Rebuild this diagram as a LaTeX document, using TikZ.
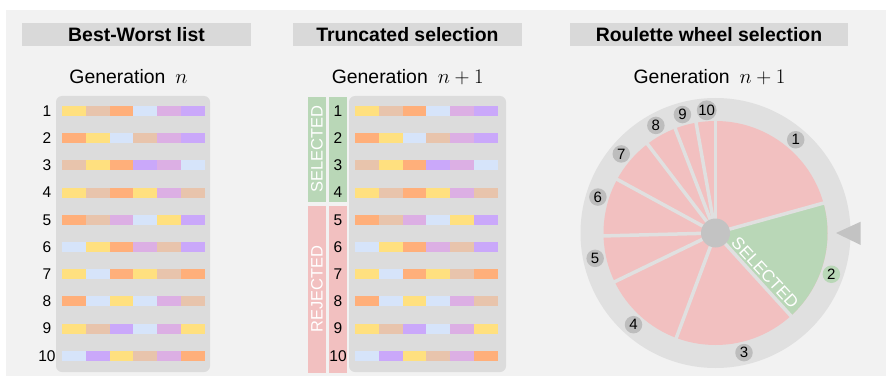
\documentclass[tikz,border=0pt]{standalone}
\usepackage{fontspec}
\newfontfamily\arialf{Liberation Sans}
\definecolor{bg}{HTML}{F2F2F2}
\definecolor{panel}{HTML}{DCDCDC}
\definecolor{titlebar}{HTML}{D9D9D9}
\definecolor{gY}{HTML}{FFE07F}
\definecolor{gT}{HTML}{E8C4AC}
\definecolor{gO}{HTML}{FFAF7A}
\definecolor{gB}{HTML}{D6E4FA}
\definecolor{gL}{HTML}{DCAFE4}
\definecolor{gP}{HTML}{CAA8FA}
\definecolor{selg}{HTML}{B9D7B7}
\definecolor{rejr}{HTML}{F2C0C0}
\definecolor{ring}{HTML}{E0E0E0}
\definecolor{hub}{HTML}{C3C3C3}
\definecolor{lab}{HTML}{BDBDBD}
\tikzset{
  titletext/.style={font=\arialf\bfseries\fontsize{19.4}{22}\selectfont, inner sep=0pt},
  gentext/.style={font=\arialf\fontsize{19.4}{22}\selectfont, inner sep=0pt, anchor=base},
  numtext/.style={font=\arialf\fontsize{15.5}{18}\selectfont, inner sep=0pt},
  bartext/.style={font=\arialf\fontsize{16.5}{19}\selectfont, text=white, inner sep=0pt, rotate=90},
  wheellab/.style={circle, fill=lab, inner sep=0pt, minimum size=17.5pt, font=\arialf\fontsize{15}{17}\selectfont},
  panelbox/.style={fill=panel, rounded corners=6pt},
}
\begin{document}
\begin{tikzpicture}[x=1pt,y=1pt]
\useasboundingbox (0,0) rectangle (886,381);
\fill[bg] (6,5) rectangle (886,371);

% title bars
\fill[titlebar] (22,335.3) rectangle (251,358.3);
\fill[titlebar] (293,335.3) rectangle (522,358.3);
\fill[titlebar] (570,335.3) rectangle (848,358.3);
\node[titletext] (t1) at (136.5,346.8) {Best-Worst list};
\node[titletext] (t2) at (407.5,346.8) {Truncated selection};
\node[titletext] (t3) at (709,346.8) {Roulette wheel selection};

% generation labels
\node[gentext] (g1) at (128.5,297.7) {Generation\hspace{10pt}{\fontsize{22}{26}\selectfont$n$}};
\node[gentext] (g2) at (407.7,297.7) {Generation\hspace{10pt}{\fontsize{22}{26}\selectfont$n+1$}};
\node[gentext] (g3) at (709.5,297.7) {Generation\hspace{10pt}{\fontsize{22}{26}\selectfont$n+1$}};

% panels
\fill[panelbox] (56,9) rectangle (210,285);
\fill[panelbox] (349,9) rectangle (506,285);

% selected / rejected bars
\fill[selg] (308,179) rectangle (326,284.3);
\fill[selg] (329,179) rectangle (347,284.3);
\fill[rejr] (308,8.3) rectangle (326,175);
\fill[rejr] (329,8.3) rectangle (347,175);
\node[bartext] (sel) at (317,231.6) {SELECTED};
\node[bartext] (rej) at (317,91.7) {REJECTED};

% chromosomes
\foreach \row [count=\i] in {{Y,T,O,B,L,P},{O,Y,B,T,L,P},{T,Y,O,P,L,B},{Y,T,O,Y,L,T},{O,T,L,B,Y,P},{B,Y,O,L,T,P},{Y,B,O,Y,T,O},{O,B,Y,B,L,T},{Y,T,P,B,L,Y},{B,P,Y,T,L,O}}{
  \pgfmathsetmacro{\yr}{270-(\i-1)*27.2}
  \node[numtext] (ln\i) at (47,\yr) {\i};
  \node[numtext] (mn\i) at (338,\yr) {\i};
  \foreach \c [count=\j] in \row {
    \pgfmathsetmacro{\xa}{62+(\j-1)*23.8}
    \pgfmathsetmacro{\xb}{355+(\j-1)*23.8}
    \fill[g\c] (\xa,\yr-5) rectangle ++(23.8,10);
    \fill[g\c] (\xb,\yr-5) rectangle ++(23.8,10);
  }
}

% roulette wheel
\begin{scope}[shift={(715.5,148)}]
  \fill[ring] (0,0) circle (135);
  \fill[rejr] (0,0) circle (112);
  \fill[selg] (0,0) -- (15.5:112) arc (15.5:-47.7:112) -- cycle;
  \foreach \a in {90,15.5,-47.7,-110.5,-154.2,-178.5,151.4,127.4,111.1,100}
    \draw[ring, line width=3.5pt] (0,0) -- (\a:113);
  \fill[hub] (0,0) circle (14.5);
  \node[font=\arialf\fontsize{17}{19}\selectfont, text=white, inner sep=0pt, rotate=-47.5] (wsel) at (-38.9:63.7) {SELECTED};
  \foreach \a/\n in {49.3/1,-76.6/3,228.2/4,191.9/5,163/6,140/7,119/8,105.6/9,94.1/10}
    \node[wheellab] (w\n) at (\a:123) {\n};
  \node[wheellab, fill=selg] (w2) at (-19.6:123) {2};
\end{scope}
\fill[hub] (836,148) -- (860.7,159.3) -- (860.7,136) -- cycle;
\end{tikzpicture}
\end{document}
